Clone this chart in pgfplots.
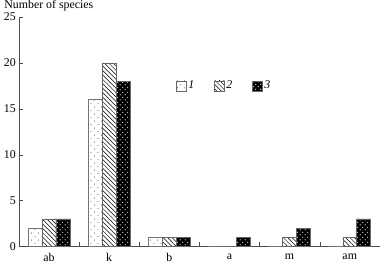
\documentclass[border=0pt]{standalone}
\usepackage{pgfplots}
\pgfplotsset{compat=1.18}
\usepackage{fontspec}
\setmainfont{Liberation Serif}
\usetikzlibrary{patterns}
\pgfdeclarepatternformonly{sparsedots}{\pgfpointorigin}{\pgfqpoint{7pt}{7pt}}{\pgfqpoint{7pt}{7pt}}{%
  \pgfpathcircle{\pgfqpoint{1pt}{1.5pt}}{0.45pt}\pgfusepath{fill}%
  \pgfpathcircle{\pgfqpoint{4.5pt}{5pt}}{0.45pt}\pgfusepath{fill}}
\pgfdeclarepatternformonly{whitedots}{\pgfpointorigin}{\pgfqpoint{5pt}{5pt}}{\pgfqpoint{5pt}{5pt}}{%
  \pgfpathcircle{\pgfqpoint{1.25pt}{1.25pt}}{0.55pt}\pgfusepath{fill}%
  \pgfpathcircle{\pgfqpoint{3.75pt}{3.75pt}}{0.55pt}\pgfusepath{fill}}
\pgfdeclarepatternformonly{nwlines}{\pgfqpoint{-1pt}{-1pt}}{\pgfqpoint{5pt}{5pt}}{\pgfqpoint{4.5pt}{4.5pt}}{%
  \pgfsetlinewidth{0.5pt}%
  \pgfpathmoveto{\pgfqpoint{0pt}{4.5pt}}\pgfpathlineto{\pgfqpoint{4.5pt}{0pt}}\pgfusepath{stroke}}
\begin{document}
\fontsize{12}{14}\selectfont
\begin{tikzpicture}
\pgfplotsset{every axis/.append style={font=\fontsize{12}{14}\selectfont}}
\begin{axis}[
  width=365pt, height=232pt, scale only axis,
  ybar=0pt, bar width=0.23,
  xmin=-0.5, xmax=5.5, ymin=0, ymax=25,
  axis x line*=bottom, axis y line*=left,
  axis line style={black!70, -},
  tick align=inside,
  tick style={black!70},
  xtick={0,1,2,3,4,5},
  xticklabels={ab,k,b,a,m,am},
  major x tick style={draw=none},
  minor xtick={0.5,1.5,2.5,3.5,4.5,5.5},
  minor tick length=4pt,
  major tick length=4pt,
  ytick={0,5,10,15,20,25},
  yticklabel style={xshift=1pt},
  xticklabel style={yshift=-3pt},
  /pgf/number format/assume math mode=true,
  ylabel={Number of species},
  every axis y label/.style={at={(rel axis cs:0,1)}, anchor=south west, inner sep=0pt, xshift=-15pt, yshift=6pt},
  legend style={at={(0.427,0.70)}, anchor=west, draw=none, fill=none, legend columns=3,
    /tikz/every even column/.append style={column sep=18pt}},
  legend image code/.code={\draw[#1, draw=black!60] (0pt,-5pt) rectangle (10pt,5pt);},
]
\addplot[draw=black!55, fill=white, postaction={pattern=sparsedots}] coordinates {(0,2) (1,16) (2,1) (3,0) (4,0) (5,0)};
\addplot[draw=black!60, fill=white, postaction={pattern=nwlines}] coordinates {(0,3) (1,20) (2,1) (3,0) (4,1) (5,1)};
\addplot[draw=black!60, fill=black, postaction={pattern=whitedots, pattern color=white}] coordinates {(0,3) (1,18) (2,1) (3,1) (4,2) (5,3)};
\legend{\textit{1},\textit{2},\textit{3}}
\end{axis}
\end{tikzpicture}
\end{document}
